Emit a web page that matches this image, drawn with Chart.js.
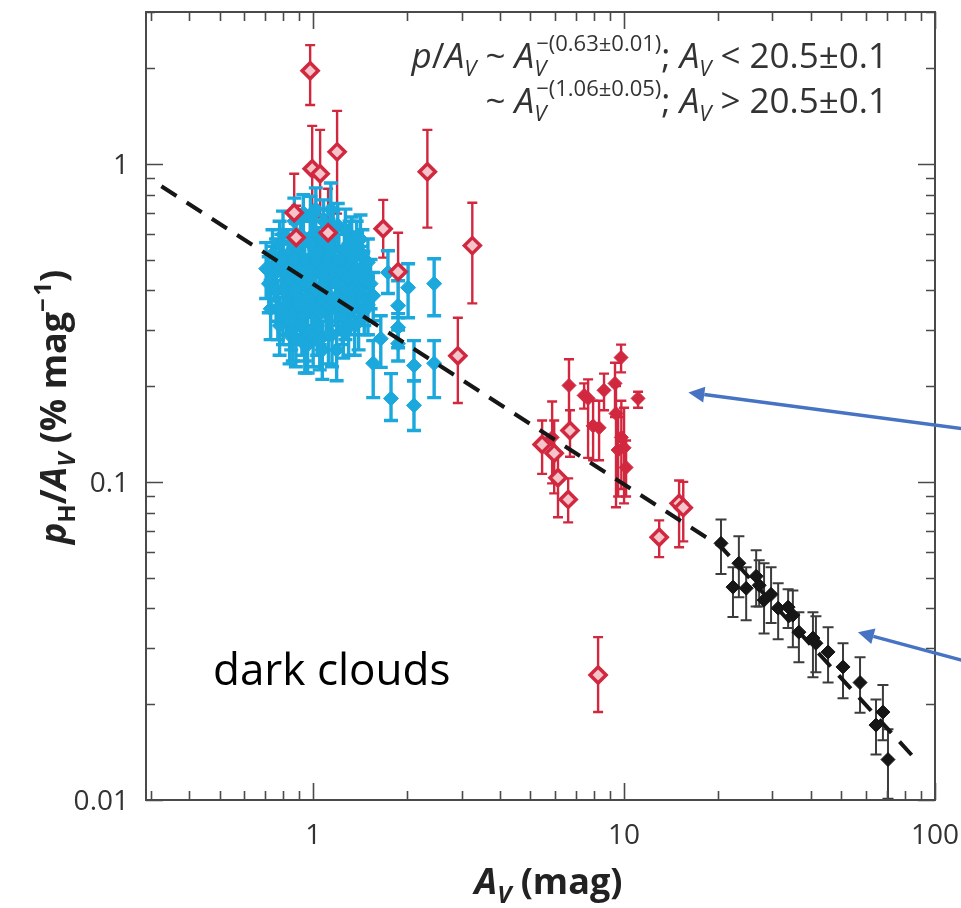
<!DOCTYPE html>
<html>
<head>
<meta charset="utf-8">
<script src="https://cdn.jsdelivr.net/npm/chart.js@4.4.1/dist/chart.umd.min.js"></script>
<style>
  html, body { margin: 0; padding: 0; background: #fff; }
  #wrap { width: 961px; height: 908px; }
</style>
</head>
<body>
<div id="wrap"><canvas id="c" width="961" height="908"></canvas></div>
<script>
// axis ranges and labelled ticks
const X_MIN = 0.29, X_MAX = 100;
const Y_MIN = 0.01, Y_MAX = 3;
const xTickLabels = [1, 10, 100];
const yTickLabels = [0.01, 0.1, 1];

// broken power-law fit (dashed)
const fitAv = [0.325, 20.5, 88];
const fitP = [0.85, 0.0625, 0.0132];

// red, open diamonds
const redOpenAv = [0.978, 0.993, 1.053, 1.194, 2.33, 1.68, 3.25, 2.92, 1.876, 0.869, 0.882, 1.117,
  5.45, 5.96, 6.13, 6.61, 6.70, 12.97, 15.03, 15.5, 8.25];
const redOpenP = [1.96, 0.965, 0.930, 1.09, 0.944, 0.625, 0.553, 0.249, 0.458, 0.702, 0.586, 0.607,
  0.131, 0.123, 0.103, 0.0881, 0.145, 0.067, 0.0856, 0.083, 0.0247];
const redOpenLo = [1.53, 0.707, 0.677, 0.697, 0.63, 0.507, 0.364, 0.177, 0.338, 0.529, 0.465, 0.442,
  0.106, 0.092, 0.0774, 0.0746, 0.120, 0.058, 0.0623, 0.065, 0.0189];
const redOpenHi = [2.36, 1.316, 1.278, 1.467, 1.278, 0.77, 0.754, 0.328, 0.607, 0.93, 0.738, 0.835,
  0.156, 0.156, 0.124, 0.1026, 0.168, 0.0757, 0.101, 0.100, 0.0325];

// red, filled diamonds
const redAv = [5.87, 6.65, 7.44, 7.66, 7.95, 8.31, 8.62, 9.35, 9.78, 9.42, 10.0, 9.57, 10.15, 9.8, 11.09];
const redP = [0.138, 0.201, 0.187, 0.183, 0.150, 0.148, 0.194, 0.204, 0.246, 0.164, 0.128, 0.126, 0.111, 0.138, 0.183];
const redLo = [0.0989, 0.148, 0.170, 0.119, 0.117, 0.117, 0.168, 0.160, 0.221, 0.0832, 0.0856, 0.09, 0.09, 0.095, 0.171];
const redHi = [0.179, 0.243, 0.204, 0.210, 0.180, 0.180, 0.219, 0.237, 0.270, 0.200, 0.171, 0.16, 0.135, 0.18, 0.192];

// blue diamonds
const blueAv = [
  0.87, 0.93, 0.98, 1.02, 1.08, 1.14, 1.20, 0.80, 1.27, 1.33,
  0.706, 0.74, 0.76, 0.78, 0.80, 0.82, 0.83, 0.85, 0.86, 0.88, 0.89, 0.90, 0.92, 0.93, 0.95,
  0.96, 0.97, 0.99, 1.00, 1.01, 1.03, 1.04, 1.06, 1.07, 1.09, 1.10, 1.12, 1.13, 1.15, 1.17,
  1.18, 1.19, 1.22, 1.24, 1.26, 1.28, 1.30, 1.32, 1.35, 1.38, 1.40, 1.43, 1.46, 1.50, 1.53,
  0.78, 0.84, 0.88, 0.94, 1.00, 1.05, 1.12, 1.25, 1.36, 0.73, 0.76,
  0.72, 0.75, 0.77, 0.79, 0.81, 0.84, 0.84, 0.87, 0.87, 0.90, 0.91, 0.91, 0.94, 0.94, 0.96,
  0.98, 0.98, 1.00, 1.02, 1.02, 1.05, 1.05, 1.07, 1.08, 1.11, 1.11, 1.14, 1.14, 1.16, 1.19,
  1.21, 1.21, 1.24, 1.27, 1.29, 1.31, 1.34, 1.37, 1.41, 1.44,
  0.80, 0.85, 0.92, 1.30, 1.42, 1.45, 1.50, 1.38,
  1.56, 1.74, 2.02, 1.876, 1.876, 1.876, 1.65, 1.56, 1.78, 2.11, 2.11, 2.45, 2.45, 1.46];
const blueP = [
  0.66, 0.70, 0.68, 0.72, 0.66, 0.72, 0.64, 0.60, 0.62, 0.58,
  0.468, 0.52, 0.40, 0.56, 0.46, 0.36, 0.52, 0.43, 0.30, 0.55, 0.38, 0.48, 0.33, 0.58, 0.42,
  0.27, 0.50, 0.36, 0.60, 0.45, 0.31, 0.53, 0.40, 0.26, 0.48, 0.35, 0.56, 0.43, 0.29, 0.50,
  0.38, 0.26, 0.45, 0.33, 0.54, 0.40, 0.47, 0.36, 0.51, 0.42, 0.32, 0.46, 0.38, 0.49, 0.42,
  0.31, 0.29, 0.28, 0.27, 0.285, 0.28, 0.29, 0.30, 0.31, 0.35, 0.48,
  0.42, 0.45, 0.35, 0.50, 0.40, 0.47, 0.34, 0.40, 0.50, 0.44, 0.36, 0.60, 0.50, 0.30, 0.38,
  0.46, 0.56, 0.34, 0.40, 0.50, 0.46, 0.34, 0.58, 0.42, 0.39, 0.50, 0.36, 0.47, 0.60, 0.42,
  0.50, 0.36, 0.46, 0.35, 0.44, 0.56, 0.40, 0.47, 0.40, 0.52,
  0.34, 0.32, 0.31, 0.31, 0.58, 0.44, 0.36, 0.55,
  0.385, 0.455, 0.408, 0.358, 0.306, 0.272, 0.282, 0.236, 0.183, 0.232, 0.174, 0.420, 0.236, 0.345];
const blueLo = [
  0.55, 0.58, 0.57, 0.60, 0.55, 0.60, 0.53, 0.50, 0.52, 0.48,
  0.377, 0.42, 0.32, 0.46, 0.38, 0.29, 0.43, 0.35, 0.24, 0.45, 0.31, 0.39, 0.27, 0.48, 0.34,
  0.22, 0.41, 0.29, 0.50, 0.37, 0.25, 0.44, 0.33, 0.21, 0.39, 0.28, 0.46, 0.35, 0.23, 0.41,
  0.31, 0.208, 0.37, 0.27, 0.44, 0.33, 0.39, 0.29, 0.42, 0.34, 0.26, 0.38, 0.31, 0.41, 0.35,
  0.25, 0.235, 0.23, 0.22, 0.23, 0.225, 0.235, 0.245, 0.25, 0.28, 0.39,
  0.34, 0.37, 0.28, 0.41, 0.32, 0.38, 0.27, 0.32, 0.41, 0.36, 0.29, 0.49, 0.41, 0.24, 0.31,
  0.38, 0.46, 0.27, 0.33, 0.41, 0.38, 0.27, 0.48, 0.34, 0.32, 0.41, 0.29, 0.38, 0.50, 0.34,
  0.41, 0.29, 0.38, 0.28, 0.36, 0.46, 0.33, 0.38, 0.33, 0.43,
  0.27, 0.26, 0.25, 0.25, 0.48, 0.36, 0.29, 0.45,
  0.321, 0.391, 0.328, 0.328, 0.264, 0.24, 0.229, 0.184, 0.156, 0.208, 0.145, 0.333, 0.184, 0.29];
const blueHi = [
  0.78, 0.80, 0.79, 0.84, 0.77, 0.87, 0.75, 0.71, 0.72, 0.68,
  0.565, 0.62, 0.49, 0.66, 0.56, 0.44, 0.62, 0.52, 0.37, 0.65, 0.46, 0.58, 0.40, 0.69, 0.51,
  0.33, 0.60, 0.44, 0.71, 0.54, 0.38, 0.63, 0.48, 0.32, 0.57, 0.42, 0.67, 0.52, 0.35, 0.60,
  0.46, 0.32, 0.54, 0.40, 0.64, 0.48, 0.56, 0.44, 0.61, 0.50, 0.39, 0.55, 0.46, 0.58, 0.50,
  0.38, 0.35, 0.34, 0.33, 0.35, 0.34, 0.35, 0.37, 0.38, 0.43, 0.58,
  0.51, 0.55, 0.43, 0.60, 0.49, 0.57, 0.42, 0.49, 0.60, 0.53, 0.44, 0.71, 0.60, 0.37, 0.46,
  0.55, 0.66, 0.41, 0.48, 0.60, 0.55, 0.41, 0.69, 0.51, 0.47, 0.60, 0.44, 0.57, 0.71, 0.51,
  0.60, 0.44, 0.55, 0.43, 0.53, 0.66, 0.48, 0.57, 0.48, 0.62,
  0.41, 0.39, 0.38, 0.38, 0.69, 0.53, 0.44, 0.66,
  0.455, 0.533, 0.485, 0.429, 0.338, 0.30, 0.333, 0.278, 0.219, 0.278, 0.208, 0.503, 0.278, 0.41];

// black diamonds
const blackAv = [20.5, 23.4, 22.4, 24.7, 26.6, 27.2, 28.2, 29.7, 31.3, 33.7, 34.9, 36.5, 40.5, 41.4, 45.3, 50.6, 57.4, 64.6, 68.0, 70.6];
const blackP = [0.0641, 0.0555, 0.0467, 0.0463, 0.0505, 0.0473, 0.0425, 0.0443, 0.0401, 0.0404, 0.0381, 0.0337, 0.0323, 0.0311, 0.0292, 0.0262, 0.0234, 0.0172, 0.0189, 0.0134];
const blackLo = [0.0513, 0.0434, 0.0376, 0.0367, 0.0406, 0.0406, 0.0334, 0.0360, 0.0320, 0.0347, 0.0302, 0.0271, 0.0243, 0.0252, 0.0234, 0.0209, 0.0188, 0.0139, 0.0154, 0.0101];
const blackHi = [0.0762, 0.0675, 0.0539, 0.0539, 0.0610, 0.0567, 0.0555, 0.0539, 0.0480, 0.0460, 0.0456, 0.0389, 0.0389, 0.0378, 0.0349, 0.0311, 0.0281, 0.0207, 0.0230, 0.0167];

// pointer arrows: [Av, p] of tail and head
const arrowTails = [[122, 0.147], [122, 0.0275]];
const arrowHeads = [[16.1, 0.191], [56.5, 0.0337]];

const RED = '#d2283f';
const BLUE = '#1ba8dc';
const BLACK = '#161616';
const FF = '"Open Sans", sans-serif';
const TXT = '#333333';

const pts = (xs, ys) => xs.map((x, i) => ({ x: x, y: ys[i] }));

function logTicks(min, max) {
  const out = [];
  for (let e = -3; e <= 3; e++) {
    for (let m = 1; m < 10; m++) {
      const v = +(m * Math.pow(10, e)).toPrecision(3);
      if (v >= min * 0.999 && v <= max * 1.001) out.push(v);
    }
  }
  return out;
}
const isLabelled = (v, list) => list.some(l => Math.abs(v / l - 1) < 1e-6);

// rich text: pieces with their own font, vertical offset, or stacked sub/sup
function stackWidth(ctx, p) {
  ctx.font = p.fsub;
  const a = ctx.measureText(p.sub).width;
  ctx.font = p.f;
  return Math.max(a, ctx.measureText(p.sup).width + (p.supShift || 0));
}
function richWidth(ctx, parts) {
  let w = 0;
  parts.forEach(p => {
    if (p.sub !== undefined) {
      w += stackWidth(ctx, p);
    } else {
      ctx.font = p.f;
      w += ctx.measureText(p.t).width;
    }
  });
  return w;
}
function richDraw(ctx, parts, x, y) {
  parts.forEach(p => {
    if (p.sub !== undefined) {
      ctx.font = p.fsub;
      ctx.fillText(p.sub, x, y + p.dsub);
      ctx.font = p.f;
      ctx.fillText(p.sup, x + (p.supShift || 0), y + p.dsup);
      x += stackWidth(ctx, p);
    } else {
      ctx.font = p.f;
      ctx.fillText(p.t, x, y + (p.dy || 0));
      x += ctx.measureText(p.t).width;
    }
  });
}

// vertical error bars under the markers
const errorBars = {
  id: 'errorBars',
  beforeDatasetsDraw(chart) {
    const { ctx, scales: { x, y } } = chart;
    ctx.save();
    ctx.beginPath();
    ctx.rect(chart.chartArea.left, chart.chartArea.top, chart.chartArea.width, chart.chartArea.height);
    ctx.clip();
    chart.data.datasets.forEach(ds => {
      if (!ds.errLo) return;
      ctx.strokeStyle = ds.errColor;
      ctx.lineWidth = ds.errWidth;
      ds.data.forEach((d, i) => {
        const px = x.getPixelForValue(d.x);
        const yl = y.getPixelForValue(ds.errLo[i]);
        const yh = y.getPixelForValue(ds.errHi[i]);
        ctx.beginPath();
        ctx.moveTo(px, yl); ctx.lineTo(px, yh);
        ctx.moveTo(px - ds.capHalf, yl); ctx.lineTo(px + ds.capHalf, yl);
        ctx.moveTo(px - ds.capHalf, yh); ctx.lineTo(px + ds.capHalf, yh);
        ctx.stroke();
      });
    });
    ctx.restore();
  }
};

// frame, inward ticks on all four sides, tick labels, titles and annotations
const decorations = {
  id: 'decorations',
  afterDraw(chart) {
    const { ctx, chartArea: a, scales: { x, y } } = chart;
    ctx.save();
    ctx.strokeStyle = '#4a4a4a';
    ctx.lineWidth = 2;
    ctx.strokeRect(a.left, a.top, a.width, a.height);

    ctx.lineWidth = 1.6;
    x.ticks.forEach(t => {
      const px = Math.round(x.getPixelForValue(t.value)) + 0.5;
      const len = isLabelled(t.value, xTickLabels) ? 17 : 9;
      ctx.beginPath();
      ctx.moveTo(px, a.bottom); ctx.lineTo(px, a.bottom - len);
      ctx.moveTo(px, a.top); ctx.lineTo(px, a.top + len);
      ctx.stroke();
    });
    y.ticks.forEach(t => {
      const py = Math.round(y.getPixelForValue(t.value)) + 0.5;
      const len = isLabelled(t.value, yTickLabels) ? 17 : 9;
      ctx.beginPath();
      ctx.moveTo(a.left, py); ctx.lineTo(a.left + len, py);
      ctx.moveTo(a.right, py); ctx.lineTo(a.right - len, py);
      ctx.stroke();
    });

    // tick labels
    ctx.fillStyle = TXT;
    ctx.font = `28px ${FF}`;
    ctx.textBaseline = 'middle';
    ctx.textAlign = 'center';
    xTickLabels.forEach(v => ctx.fillText(String(v), x.getPixelForValue(v), a.bottom + 36));
    ctx.textAlign = 'right';
    yTickLabels.forEach(v => ctx.fillText(String(v), a.left - 17, y.getPixelForValue(v) + 2));

    // fit annotation, right aligned in the upper corner
    const rm = `35px ${FF}`, it = `italic 35px ${FF}`, sm = `italic 22px ${FF}`, smr = `22px ${FF}`;
    const line1 = [
      { t: 'p', f: it }, { t: '/', f: rm }, { t: 'A', f: it }, { t: 'V', f: sm, dy: 8 },
      { t: ' ~ ', f: rm }, { t: 'A', f: it },
      { sub: 'V', sup: '\u2212(0.63\u00b10.01)', f: smr, fsub: sm, dsub: 8, dsup: -17, supShift: 2 },
      { t: '; ', f: rm }, { t: 'A', f: it }, { t: 'V', f: sm, dy: 8 }, { t: ' < 20.5\u00b10.1', f: rm }
    ];
    const line2 = [
      { t: '~ ', f: rm }, { t: 'A', f: it },
      { sub: 'V', sup: '\u2212(1.06\u00b10.05)', f: smr, fsub: sm, dsub: 8, dsup: -17, supShift: 2 },
      { t: '; ', f: rm }, { t: 'A', f: it }, { t: 'V', f: sm, dy: 8 }, { t: ' > 20.5\u00b10.1', f: rm }
    ];
    ctx.textBaseline = 'alphabetic';
    ctx.textAlign = 'left';
    const rx = a.right - 47;
    richDraw(ctx, line1, rx - richWidth(ctx, line1), 68);
    richDraw(ctx, line2, rx - richWidth(ctx, line2), 113);

    // axis titles
    ctx.fillStyle = '#222';
    const bt = `bold 36px ${FF}`, bi = `italic bold 36px ${FF}`, bs = `bold 24px ${FF}`, bsi = `italic bold 24px ${FF}`;
    const xTitle = [{ t: 'A', f: bi }, { t: 'V', f: bsi, dy: 9 }, { t: ' (mag)', f: bt }];
    richDraw(ctx, xTitle, (a.left + a.right) / 2 + 8 - richWidth(ctx, xTitle) / 2, 894);

    const yTitle = [
      { t: 'p', f: bi }, { t: 'H', f: bs, dy: 9 }, { t: '/', f: bt }, { t: 'A', f: bi },
      { t: 'V', f: bsi, dy: 9 }, { t: ' (% mag', f: bt }, { t: '\u2212\u200a1', f: bs, dy: -15 }, { t: ')', f: bt }
    ];
    ctx.save();
    ctx.translate(66, 407);
    ctx.rotate(-Math.PI / 2);
    richDraw(ctx, yTitle, -richWidth(ctx, yTitle) / 2, 0);
    ctx.restore();

    // label for the lower-left region
    ctx.fillStyle = '#000';
    ctx.font = `44px ${FF}`;
    ctx.fillText('dark clouds', 213, 685);

    // pointer arrows
    ctx.strokeStyle = '#4673c2';
    ctx.fillStyle = '#4673c2';
    ctx.lineWidth = 3.5;
    arrowTails.forEach((t, i) => {
      const x0 = x.getPixelForValue(t[0]), y0 = y.getPixelForValue(t[1]);
      const x1 = x.getPixelForValue(arrowHeads[i][0]), y1 = y.getPixelForValue(arrowHeads[i][1]);
      const ang = Math.atan2(y1 - y0, x1 - x0);
      const hl = 16, hw = 8;
      const bx = x1 - hl * Math.cos(ang), by = y1 - hl * Math.sin(ang);
      ctx.beginPath();
      ctx.moveTo(x0, y0); ctx.lineTo(bx, by);
      ctx.stroke();
      ctx.beginPath();
      ctx.moveTo(x1, y1);
      ctx.lineTo(bx + hw * Math.sin(ang), by - hw * Math.cos(ang));
      ctx.lineTo(bx - hw * Math.sin(ang), by + hw * Math.cos(ang));
      ctx.closePath();
      ctx.fill();
    });
    ctx.restore();
  }
};

new Chart(document.getElementById('c'), {
  type: 'scatter',
  data: {
    datasets: [
      {
        type: 'line', label: 'fit', data: pts(fitAv, fitP), order: 0,
        borderColor: BLACK, borderWidth: 4, borderDash: [18, 12], pointRadius: 0, fill: false
      },
      {
        label: 'red open', data: pts(redOpenAv, redOpenP), order: 1,
        pointStyle: 'rectRot', pointRadius: 8, backgroundColor: '#f4c4ca', borderColor: RED, borderWidth: 3.5,
        errLo: redOpenLo, errHi: redOpenHi, errColor: RED, errWidth: 2.4, capHalf: 5
      },
      {
        label: 'red', data: pts(redAv, redP), order: 1,
        pointStyle: 'rectRot', pointRadius: 7, backgroundColor: RED, borderColor: RED, borderWidth: 1,
        errLo: redLo, errHi: redHi, errColor: RED, errWidth: 2.4, capHalf: 5
      },
      {
        label: 'blue', data: pts(blueAv, blueP), order: 2,
        pointStyle: 'rectRot', pointRadius: 7.5, backgroundColor: BLUE, borderColor: BLUE, borderWidth: 1,
        errLo: blueLo, errHi: blueHi, errColor: BLUE, errWidth: 3.4, capHalf: 7
      },
      {
        label: 'black', data: pts(blackAv, blackP), order: 2,
        pointStyle: 'rectRot', pointRadius: 7, backgroundColor: BLACK, borderColor: BLACK, borderWidth: 1,
        errLo: blackLo, errHi: blackHi, errColor: '#3c3c3c', errWidth: 2, capHalf: 5.5
      }
    ]
  },
  options: {
    responsive: false,
    animation: false,
    layout: { padding: { top: 12, right: 26, left: 0, bottom: 0 } },
    plugins: { legend: { display: false }, tooltip: { enabled: false } },
    scales: {
      x: {
        type: 'logarithmic', min: X_MIN, max: X_MAX,
        grid: { display: false, drawTicks: false },
        border: { display: false },
        afterBuildTicks: s => { s.ticks = logTicks(s.min, s.max).map(v => ({ value: v })); },
        afterFit: s => { s.height = 108; },
        ticks: { display: false, autoSkip: false }
      },
      y: {
        type: 'logarithmic', min: Y_MIN, max: Y_MAX,
        grid: { display: false, drawTicks: false },
        border: { display: false },
        afterBuildTicks: s => { s.ticks = logTicks(s.min, s.max).map(v => ({ value: v })); },
        afterFit: s => { s.width = 146; },
        ticks: { display: false, autoSkip: false }
      }
    }
  },
  plugins: [errorBars, decorations]
});
</script>
</body>
</html>
